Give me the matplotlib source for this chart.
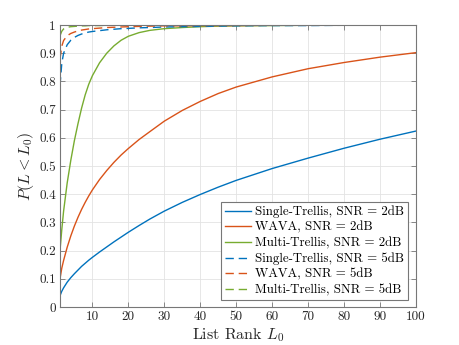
"""List-rank CDF comparison of Single-Trellis, WAVA and Multi-Trellis decoders."""

import matplotlib

matplotlib.use("Agg")
import matplotlib.pyplot as plt

# list rank samples
rank = [1, 1.5, 2, 3, 4, 5, 6, 7, 8, 9, 10, 12, 14, 16, 18, 20, 23, 26, 30, 35, 40, 45,
        50, 60, 70, 80, 90, 100]

single_2db = [0.040, 0.056, 0.068, 0.088, 0.104, 0.118, 0.131, 0.144, 0.155, 0.166, 0.176,
              0.195, 0.213, 0.231, 0.248, 0.265, 0.289, 0.312, 0.340, 0.371, 0.399, 0.425,
              0.449, 0.491, 0.528, 0.563, 0.595, 0.624]
wava_2db = [0.100, 0.138, 0.165, 0.212, 0.252, 0.287, 0.318, 0.346, 0.371, 0.394, 0.415,
            0.452, 0.484, 0.513, 0.539, 0.562, 0.594, 0.622, 0.659, 0.697, 0.729, 0.757,
            0.780, 0.816, 0.845, 0.867, 0.886, 0.902]
multi_2db = [0.200, 0.275, 0.340, 0.440, 0.520, 0.590, 0.650, 0.705, 0.752, 0.790, 0.820,
             0.866, 0.900, 0.926, 0.946, 0.960, 0.973, 0.981, 0.987, 0.991, 0.994, 0.996,
             0.997, 0.998, 0.999, 0.999, 1.000, 1.000]
single_5db = [0.785, 0.865, 0.900, 0.930, 0.946, 0.956, 0.963, 0.968, 0.972, 0.975, 0.977,
              0.980, 0.983, 0.985, 0.987, 0.988, 0.990, 0.991, 0.993, 0.994, 0.995, 0.996,
              0.997, 0.998, 0.998, 0.999, 0.999, 0.999]
wava_5db = [0.880, 0.925, 0.945, 0.962, 0.970, 0.975, 0.979, 0.982, 0.984, 0.986, 0.987,
            0.989, 0.991, 0.992, 0.993, 0.994, 0.995, 0.996, 0.997, 0.997, 0.998, 0.998,
            0.998, 0.999, 0.999, 0.999, 1.000, 1.000]
multi_5db = [0.962, 0.978, 0.986, 0.992, 0.994, 0.995, 0.996, 0.997, 0.997, 0.998, 0.998,
             0.998, 0.999, 0.999, 0.999, 0.999, 1.000, 1.000, 1.000, 1.000, 1.000, 1.000,
             1.000, 1.000, 1.000, 1.000, 1.000, 1.000]

labels = [
    "Single-Trellis, SNR = 2dB",
    "WAVA, SNR = 2dB",
    "Multi-Trellis, SNR = 2dB",
    "Single-Trellis, SNR = 5dB",
    "WAVA, SNR = 5dB",
    "Multi-Trellis, SNR = 5dB",
]
xticks = [10, 20, 30, 40, 50, 60, 70, 80, 90, 100]
yticks = [0, 0.1, 0.2, 0.3, 0.4, 0.5, 0.6, 0.7, 0.8, 0.9, 1]
ytick_labels = ["0", "0.1", "0.2", "0.3", "0.4", "0.5", "0.6", "0.7", "0.8", "0.9", "1"]

BLUE, ORANGE, GREEN = "#0072BD", "#D95319", "#77AC30"

plt.rcParams["font.family"] = "serif"
plt.rcParams["font.serif"] = ["cmr10", "DejaVu Serif"]
plt.rcParams["mathtext.fontset"] = "cm"
plt.rcParams["axes.unicode_minus"] = False

fig = plt.figure(figsize=(4.6, 3.45), dpi=100)
ax = fig.add_axes([60 / 460, 1 - 307 / 345, 356 / 460, 282 / 345])

series = [single_2db, wava_2db, multi_2db, single_5db, wava_5db, multi_5db]
colors = [BLUE, ORANGE, GREEN, BLUE, ORANGE, GREEN]
for i, (vals, col, lab) in enumerate(zip(series, colors, labels)):
    if i < 3:
        ax.plot(rank, vals, color=col, linewidth=1.0, label=lab)
    else:
        ax.plot(rank, vals, color=col, linewidth=1.0, dashes=(6, 3.5), label=lab)

ax.set_xlim(1, 100)
ax.set_ylim(0, 1)
ax.set_xticks(xticks)
ax.set_xticklabels([str(t) for t in xticks])
ax.set_yticks(yticks)
ax.set_yticklabels(ytick_labels)
ax.grid(color="#e3e3e3", linewidth=0.6)
ax.set_axisbelow(True)
ax.tick_params(direction="in", length=3.5, width=0.6, top=True, right=True,
               labelsize=9.5, colors="#777777", labelcolor="#262626", pad=3)
for sp in ax.spines.values():
    sp.set_color("#777777")
    sp.set_linewidth(0.8)

ax.set_xlabel("List Rank $L_0$", fontsize=11.5, color="#262626", labelpad=2)
ax.set_ylabel("$P(L < L_0)$", fontsize=11.5, color="#262626", labelpad=2)

leg = ax.legend(loc="lower right", bbox_to_anchor=(0.9775, 0.025), borderaxespad=0,
                fontsize=9.3, handlelength=2.0, handletextpad=0.35, labelspacing=0.25,
                borderpad=0.3, frameon=True, fancybox=False, framealpha=1)
leg.get_frame().set_edgecolor("#777777")
leg.get_frame().set_linewidth(0.8)

fig.savefig("out.png", dpi=100)
